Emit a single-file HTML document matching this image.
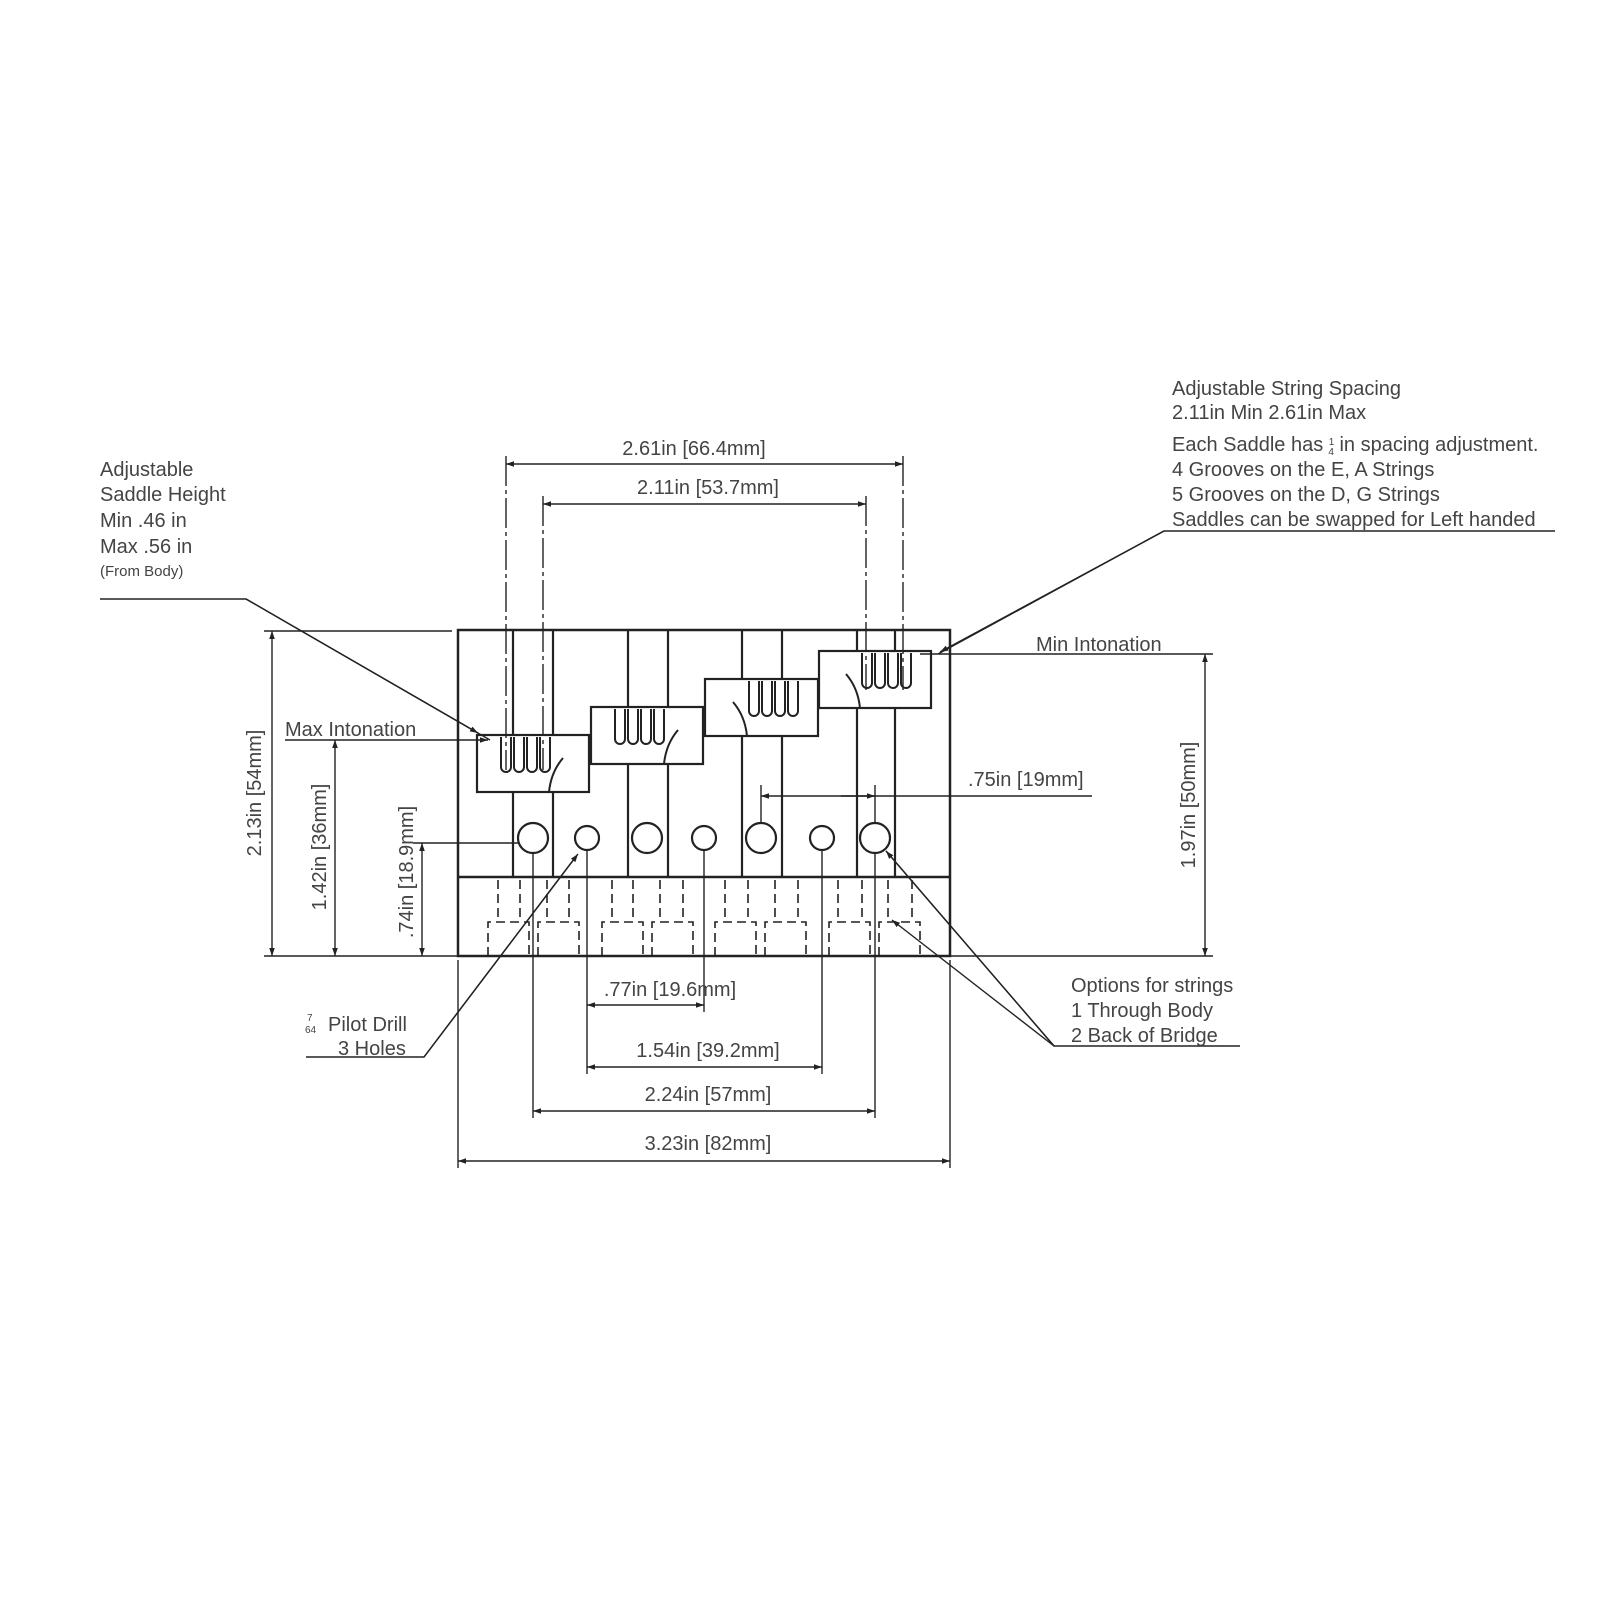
<!DOCTYPE html>
<html><head><style>html,body{margin:0;padding:0;background:#fff}svg{display:block}</style></head>
<body>
<svg width="1600" height="1600" viewBox="0 0 1600 1600" xmlns="http://www.w3.org/2000/svg" font-family="Liberation Sans, sans-serif" font-size="20" fill="#444">
<defs>
<marker id="a" viewBox="0 0 10 10" refX="10" refY="5" markerWidth="12" markerHeight="8" orient="auto-start-reverse" markerUnits="userSpaceOnUse"><path d="M0,1.5 L10,5 L0,8.5 z" fill="#222"/></marker>
</defs>
<g stroke="#222" fill="none">
<rect x="458" y="630" width="492" height="326" stroke-width="2.5"/>
<line x1="458" y1="877" x2="950" y2="877" stroke-width="2.5"/>
<g stroke-width="2.2">
<line x1="513" y1="630" x2="513" y2="877"/><line x1="553" y1="630" x2="553" y2="877"/>
<line x1="628" y1="630" x2="628" y2="877"/><line x1="668" y1="630" x2="668" y2="877"/>
<line x1="742" y1="630" x2="742" y2="877"/><line x1="782" y1="630" x2="782" y2="877"/>
<line x1="857" y1="630" x2="857" y2="877"/><line x1="895" y1="630" x2="895" y2="877"/>
</g>
<g stroke-width="2.2" fill="#fff">
<rect x="477" y="735" width="112" height="57"/>
<rect x="591" y="707" width="112" height="57"/>
<rect x="705" y="679" width="113" height="57"/>
<rect x="819" y="651" width="112" height="57"/>
</g>
<g stroke-width="2">
<path d="M501,737 v30 a5,5 0 0 0 10,0 v-30 M514,737 v30 a5,5 0 0 0 10,0 v-30 M527,737 v30 a5,5 0 0 0 10,0 v-30 M540,737 v30 a5,5 0 0 0 10,0 v-30"/>
<path d="M563,758 q-12,14 -14,34"/>
<path d="M615,709 v30 a5,5 0 0 0 10,0 v-30 M628,709 v30 a5,5 0 0 0 10,0 v-30 M641,709 v30 a5,5 0 0 0 10,0 v-30 M654,709 v30 a5,5 0 0 0 10,0 v-30"/>
<path d="M678,730 q-12,14 -14,34"/>
<path d="M749,681 v30 a5,5 0 0 0 10,0 v-30 M762,681 v30 a5,5 0 0 0 10,0 v-30 M775,681 v30 a5,5 0 0 0 10,0 v-30 M788,681 v30 a5,5 0 0 0 10,0 v-30"/>
<path d="M733,702 q12,14 14,34"/>
<path d="M862,653 v30 a5,5 0 0 0 10,0 v-30 M875,653 v30 a5,5 0 0 0 10,0 v-30 M888,653 v30 a5,5 0 0 0 10,0 v-30 M901,653 v30 a5,5 0 0 0 10,0 v-30"/>
<path d="M846,674 q12,14 14,34"/>
</g>
<g stroke-width="2.2">
<circle cx="533" cy="838" r="15"/><circle cx="587" cy="838" r="12"/>
<circle cx="647" cy="838" r="15"/><circle cx="704" cy="838" r="12"/>
<circle cx="761" cy="838" r="15"/><circle cx="822" cy="838" r="12"/>
<circle cx="875" cy="838" r="15"/>
</g>
<g stroke-width="1.6" stroke-dasharray="9,5">
<path d="M498,880v42M520,880v42M547,880v42M569,880v42M488,956v-34h41v34M538,956v-34h41v34"/>
<path d="M612,880v42M633,880v42M660,880v42M683,880v42M602,956v-34h41v34M652,956v-34h41v34"/>
<path d="M725,880v42M748,880v42M775,880v42M798,880v42M715,956v-34h41v34M765,956v-34h41v34"/>
<path d="M838,880v42M862,880v42M888,880v42M912,880v42M829,956v-34h41v34M879,956v-34h41v34"/>
</g>
<g stroke-width="1.4">
<line x1="506" y1="456" x2="506" y2="770" stroke-dasharray="30,4,4,4"/>
<line x1="543" y1="496" x2="543" y2="770" stroke-dasharray="30,4,4,4"/>
<line x1="866" y1="496" x2="866" y2="690" stroke-dasharray="30,4,4,4"/>
<line x1="903" y1="456" x2="903" y2="690" stroke-dasharray="30,4,4,4"/>
<line x1="506" y1="464" x2="903" y2="464" marker-start="url(#a)" marker-end="url(#a)"/>
<line x1="543" y1="504" x2="866" y2="504" marker-start="url(#a)" marker-end="url(#a)"/>
<line x1="264" y1="631" x2="452" y2="631"/>
<line x1="264" y1="956" x2="458" y2="956"/>
<line x1="272" y1="631" x2="272" y2="956" marker-start="url(#a)" marker-end="url(#a)"/>
<line x1="285" y1="740" x2="488" y2="740" marker-end="url(#a)"/>
<line x1="335" y1="740" x2="335" y2="956" marker-start="url(#a)" marker-end="url(#a)"/>
<line x1="413" y1="843" x2="518" y2="843"/>
<line x1="422" y1="843" x2="422" y2="956" marker-start="url(#a)" marker-end="url(#a)"/>
<polyline points="100,599 246,599 490,740"/>
<line x1="246" y1="599" x2="478" y2="733" marker-end="url(#a)"/>
<line x1="920" y1="654" x2="1213" y2="654"/>
<line x1="950" y1="956" x2="1213" y2="956"/>
<line x1="1205" y1="654" x2="1205" y2="956" marker-start="url(#a)" marker-end="url(#a)"/>
<polyline points="1555,531 1164,531 938,654"/>
<line x1="1164" y1="531" x2="940" y2="652" marker-end="url(#a)"/>
<line x1="761" y1="785" x2="761" y2="823"/><line x1="875" y1="785" x2="875" y2="823"/>
<line x1="795" y1="796" x2="761" y2="796" marker-end="url(#a)"/>
<line x1="841" y1="796" x2="875" y2="796" marker-end="url(#a)"/>
<line x1="795" y1="796" x2="1092" y2="796"/>
<line x1="533" y1="853" x2="533" y2="1118"/>
<line x1="587" y1="850" x2="587" y2="1074"/>
<line x1="704" y1="850" x2="704" y2="1012"/>
<line x1="822" y1="850" x2="822" y2="1074"/>
<line x1="875" y1="853" x2="875" y2="1118"/>
<line x1="458" y1="960" x2="458" y2="1168"/>
<line x1="950" y1="960" x2="950" y2="1168"/>
<line x1="587" y1="1005" x2="704" y2="1005" marker-start="url(#a)" marker-end="url(#a)"/>
<line x1="587" y1="1067" x2="822" y2="1067" marker-start="url(#a)" marker-end="url(#a)"/>
<line x1="533" y1="1111" x2="875" y2="1111" marker-start="url(#a)" marker-end="url(#a)"/>
<line x1="458" y1="1161" x2="950" y2="1161" marker-start="url(#a)" marker-end="url(#a)"/>
<polyline points="306,1057 424,1057 577,855"/>
<line x1="424" y1="1057" x2="578" y2="854" marker-end="url(#a)"/>
<polyline points="1240,1046 1054,1046 886,851"/>
<line x1="1054" y1="1046" x2="886" y2="851" marker-end="url(#a)"/>
<line x1="1054" y1="1046" x2="892" y2="920" marker-end="url(#a)"/>
</g>
</g>
<g fill="#444">
<text x="694" y="455" text-anchor="middle">2.61in [66.4mm]</text>
<text x="708" y="494" text-anchor="middle">2.11in [53.7mm]</text>
<text x="100" y="476">Adjustable</text>
<text x="100" y="501">Saddle Height</text>
<text x="100" y="527">Min .46 in</text>
<text x="100" y="553">Max .56 in</text>
<text x="100" y="576" font-size="15">(From Body)</text>
<text x="285" y="736">Max Intonation</text>
<text x="1036" y="651">Min Intonation</text>
<text x="968" y="786">.75in [19mm]</text>
<text x="1172" y="395">Adjustable String Spacing</text>
<text x="1172" y="419">2.11in Min 2.61in Max</text>
<text x="1172" y="451">Each Saddle has <tspan font-size="10" dy="-6">1</tspan><tspan font-size="10" dx="-6" dy="10">4</tspan><tspan dy="-4"> in spacing adjustment.</tspan></text>
<text x="1172" y="476">4 Grooves on the E, A Strings</text>
<text x="1172" y="501">5 Grooves on the D, G Strings</text>
<text x="1172" y="526">Saddles can be swapped for Left handed</text>
<text transform="translate(261,793) rotate(-90)" text-anchor="middle">2.13in [54mm]</text>
<text transform="translate(326,847) rotate(-90)" text-anchor="middle">1.42in [36mm]</text>
<text transform="translate(413,872) rotate(-90)" text-anchor="middle">.74in [18.9mm]</text>
<text transform="translate(1195,805) rotate(-90)" text-anchor="middle">1.97in [50mm]</text>
<text x="670" y="996" text-anchor="middle">.77in [19.6mm]</text>
<text x="708" y="1057" text-anchor="middle">1.54in [39.2mm]</text>
<text x="708" y="1101" text-anchor="middle">2.24in [57mm]</text>
<text x="708" y="1150" text-anchor="middle">3.23in [82mm]</text>
<text x="307" y="1021" font-size="10">7</text>
<text x="305" y="1033" font-size="10">64</text>
<text x="328" y="1031">Pilot Drill</text>
<text x="338" y="1055">3 Holes</text>
<text x="1071" y="992">Options for strings</text>
<text x="1071" y="1017">1 Through Body</text>
<text x="1071" y="1042">2 Back of Bridge</text>
</g>
</svg>
</body></html>
